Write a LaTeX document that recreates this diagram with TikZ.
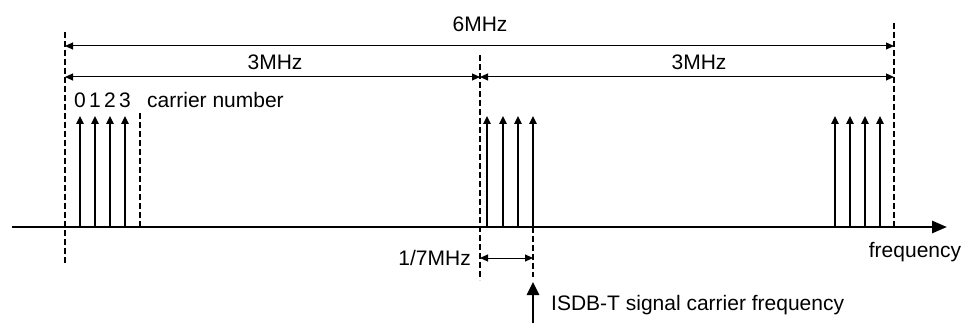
\documentclass[tikz,border=0pt]{standalone}
\usepackage{fontspec}
\setmainfont{Liberation Sans}
\usetikzlibrary{arrows.meta}
\begin{document}
\begin{tikzpicture}[x=1pt,y=-1pt,
  font=\fontsize{21}{25}\selectfont,
  lbl/.style={inner sep=0pt},
  dimline/.style={line width=1pt,
    {Triangle[length=8pt,width=7pt]}-{Triangle[length=8pt,width=7pt]}},
  carrier/.style={line width=1.3pt,-{Triangle[length=8pt,width=7.5pt]}},
  guide/.style={line width=1.3pt,dash pattern=on 6pt off 3pt},
  axisline/.style={line width=2.7pt,-{Triangle[length=15pt,width=12pt]}},
  bigarrow/.style={line width=2.7pt,-{Triangle[length=13pt,width=12pt]}}]
\useasboundingbox (0,0) rectangle (966,323);

% guide lines
\coordinate (Ltop) at (65,32);  \coordinate (Lbot) at (65,265);
\coordinate (Mtop) at (480,55); \coordinate (Mbot) at (480,280);
\coordinate (Rtop) at (894,23); \coordinate (Rbot) at (894,227);
\draw[guide] (Ltop) -- (Lbot);
\draw[guide] (Mtop) -- (Mbot);
\draw[guide] (Rtop) -- (Rbot);

% dimension arrows
\coordinate (d6a) at (65,46);  \coordinate (d6b) at (894,46);
\coordinate (d3a) at (65,77);  \coordinate (d3m) at (480,77);
\coordinate (d3b) at (894,77);
\draw[dimline] (d6a) -- (d6b);
\draw[dimline] (d3a) -- (d3m);
\draw[dimline] (d3m) -- (d3b);
\node[lbl,anchor=base] (six) at (480,32) {6MHz};
\node[lbl,anchor=base] (threeL) at (275,69.5) {3MHz};
\node[lbl,anchor=base] (threeR) at (699,69.5) {3MHz};

% frequency axis
\coordinate (ax0) at (12,227); \coordinate (ax1) at (947,227);
\draw[axisline] (ax0) -- (ax1);
\node[lbl,anchor=base] (freq) at (915,257) {frequency};

% carriers
\foreach \x in {80,95,110,125,487,503,518,533,835,850,865,880}{
  \coordinate (cb\x) at (\x,227);
  \coordinate (ct\x) at (\x,116);
  \draw[carrier] (cb\x) -- (ct\x);
}
\foreach \x/\n in {80/0,95/1,110/2,125/3}{
  \node[lbl,anchor=base] (num\n) at (\x,107.5) {\n};
}
\node[lbl,anchor=base west] (cn) at (147,107.5) {carrier number};

% extra dashed marks
\coordinate (k1t) at (140,113); \coordinate (k1b) at (140,227);
\draw[guide] (k1t) -- (k1b);
\coordinate (k2b) at (533,277);
\draw[guide] (cb533) -- (k2b);

% 1/7 MHz spacing
\coordinate (s1) at (480,258); \coordinate (s2) at (533,258);
\draw[dimline] (s1) -- (s2);
\node[lbl,anchor=base east] (sev) at (471,265) {1/7MHz};

% ISDB-T carrier arrow
\coordinate (ib) at (533,323); \coordinate (it) at (533,282);
\draw[bigarrow] (ib) -- (it);
\node[lbl,anchor=base west] (isdb) at (551,310) {ISDB-T signal carrier frequency};
\end{tikzpicture}
\end{document}
